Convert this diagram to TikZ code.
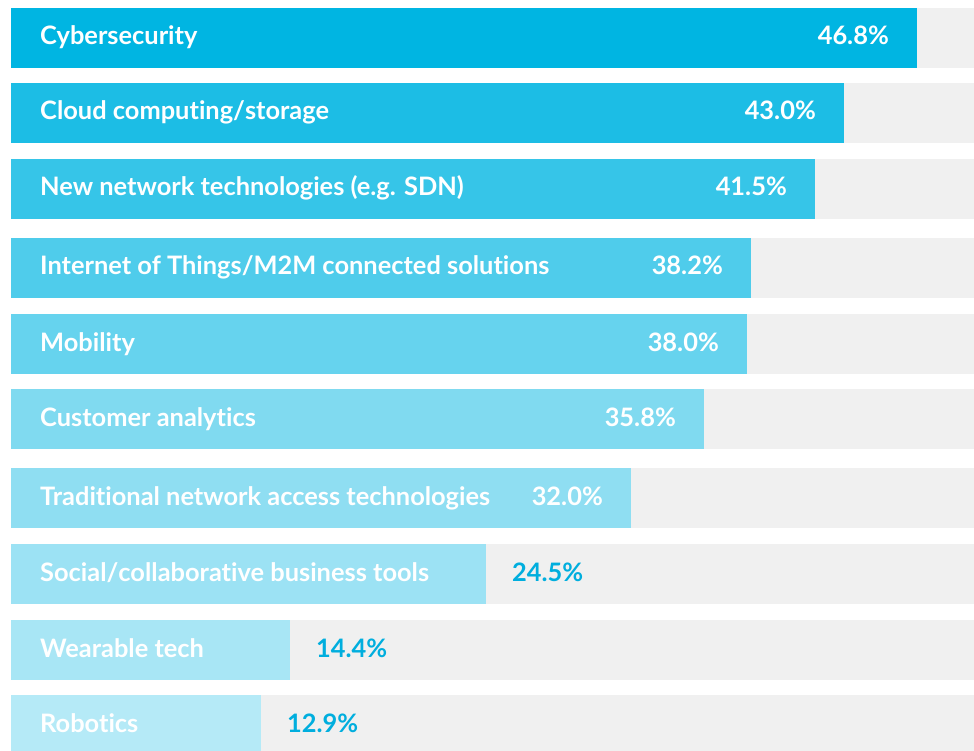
\documentclass[tikz,border=0pt]{standalone}
\usepackage{fontspec}
\setmainfont{Lato}[Ligatures=NoCommon]
\definecolor{basecyan}{RGB}{0,181,226}
\definecolor{pctcyan}{RGB}{0,174,222}
\definecolor{track}{RGB}{240,240,240}
\begin{document}
\begin{tikzpicture}[x=1pt,y=-1pt,
  lbl/.style={anchor=base west,text=white,font=\fontsize{25.4}{25.4}\selectfont\bfseries,inner sep=0pt},
  pin/.style={anchor=base east,text=white,font=\fontsize{25.4}{25.4}\selectfont\bfseries,inner sep=0pt},
  pout/.style={anchor=base west,text=pctcyan,font=\fontsize{25.4}{25.4}\selectfont\bfseries,inner sep=0pt}]
\useasboundingbox[fill=white] (0,0) rectangle (974,751);
\foreach \i/\t/\e/\m/\l/\p/\io in {
  1/8/917/100/Cybersecurity/46.8\%/1,
  2/83/844/89/Cloud computing\slash storage/43.0\%/1,
  3/159/815/79/New network technologies (e.g. SDN)/41.5\%/1,
  4/238/751/69/Internet of Things\slash M2M connected solutions/38.2\%/1,
  5/314/747/60/Mobility/38.0\%/1,
  6/389/704/50/Customer analytics/35.8\%/1,
  7/468/631/44/Traditional network access technologies/32.0\%/1,
  8/544/486/39/Social\slash collaborative business tools/24.5\%/0,
  9/620/290/34/Wearable tech/14.4\%/0,
  10/695/261/29/Robotics/12.9\%/0}{
  \pgfmathsetmacro{\b}{\t+60}
  \fill[track] (11,\t) rectangle (974,\b);
  \fill[basecyan!\m!white] (11,\t) rectangle (\e,\b);
  \node[lbl] (l\i) at (40,\t+37) {\l};
  \ifnum\io=1
    \node[pin] (p\i) at (\e-28,\t+37) {\p};
  \else
    \node[pout] (p\i) at (\e+26,\t+37) {\p};
  \fi
}
\end{tikzpicture}
\end{document}
